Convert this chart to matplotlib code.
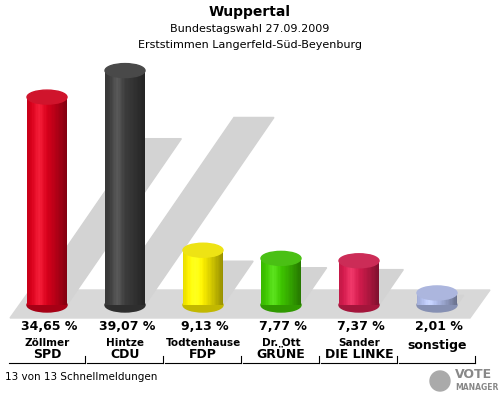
import numpy as np
import matplotlib.pyplot as plt
from matplotlib.patches import Ellipse, Rectangle, Polygon
from matplotlib.colors import to_rgb

parties = ['SPD', 'CDU', 'FDP', 'GRÜNE', 'DIE LINKE', 'sonstige']
candidates = ['Zöllmer', 'Hintze', 'Todtenhause', 'Dr. Ott', 'Sander', '']
values = [34.65, 39.07, 9.13, 7.77, 7.37, 2.01]
colors = ['#d0001a', '#3a3a3a', '#f2e600', '#3cbf00', '#cc1a4a', '#a8b4e0']

fig = plt.figure(figsize=(5, 4), dpi=100)
ax = fig.add_axes([0, 0, 1, 1])
ax.set_xlim(0, 500)
ax.set_ylim(400, 0)
ax.axis('off')

base = 305
scale = 6.0
w = 40
eh = 14
xs = [47 + 78 * i for i in range(len(values))]

# floor
ax.add_patch(Polygon([[10, 318], [470, 318], [490, 290], [30, 290]], color='#d8d8d8', zorder=1))
# shadows
for x, v in zip(xs, values):
    h = v * scale
    ax.add_patch(Polygon([[x - w / 2, base], [x + w / 2, base],
                          [x + w / 2 + h * 0.55, base - h * 0.8], [x - w / 2 + h * 0.55, base - h * 0.8]],
                         color='#d3d3d3', zorder=1.5))

for x, v, c in zip(xs, values, colors):
    h = v * scale
    top = base - h
    rgb = np.array(to_rgb(c))
    n = 30
    for k in range(n):
        t = k / (n - 1)
        shade = 1.15 - 0.5 * abs(t - 0.3) ** 1.2 * 1.6
        col = np.clip(rgb * shade + 0.12 * max(0, 1 - abs(t - 0.3) * 5) * (1 - rgb), 0, 1)
        ax.add_patch(Rectangle((x - w / 2 + k * w / n, top), w / n + 0.3, h, color=col, lw=0, zorder=2))
    ax.add_patch(Ellipse((x, base), w, eh, color=np.clip(rgb * 0.8, 0, 1), zorder=1.9))
    ax.add_patch(Ellipse((x, top), w, eh, color=np.clip(rgb * 0.9 + 0.08, 0, 1), zorder=3))

for x, v, p, cand in zip(xs, values, parties, candidates):
    ax.text(x + 2, 327, f'{v:.2f} %'.replace('.', ','), ha='center', va='center',
            fontsize=9, fontweight='bold')
    if cand:
        ax.text(x, 343, cand, ha='center', va='center', fontsize=7.5, fontweight='bold')
        ax.text(x, 355, p, ha='center', va='center', fontsize=9, fontweight='bold')
    else:
        ax.text(x, 346, p, ha='center', va='center', fontsize=9, fontweight='bold')
    ax.plot([x - 38, x + 38], [363, 363], color='black', lw=0.8)
    ax.plot([x + 38, x + 38], [356, 363], color='black', lw=0.8)

ax.text(250, 12, 'Wuppertal', ha='center', va='center', fontsize=10, fontweight='bold')
ax.text(250, 29, 'Bundestagswahl 27.09.2009', ha='center', va='center', fontsize=8)
ax.text(250, 45, 'Erststimmen Langerfeld-Süd-Beyenburg', ha='center', va='center', fontsize=8)
ax.text(5, 377, '13 von 13 Schnellmeldungen', ha='left', va='center', fontsize=7.5)
ax.text(455, 375, 'VOTE', ha='left', va='center', fontsize=9, fontweight='bold', color='#888888')
ax.text(455, 388, 'MANAGER', ha='left', va='center', fontsize=5.5, fontweight='bold', color='#888888')
ax.add_patch(Ellipse((440, 381), 20, 20, color='#aaaaaa'))

fig.savefig('out.png', dpi=100)
